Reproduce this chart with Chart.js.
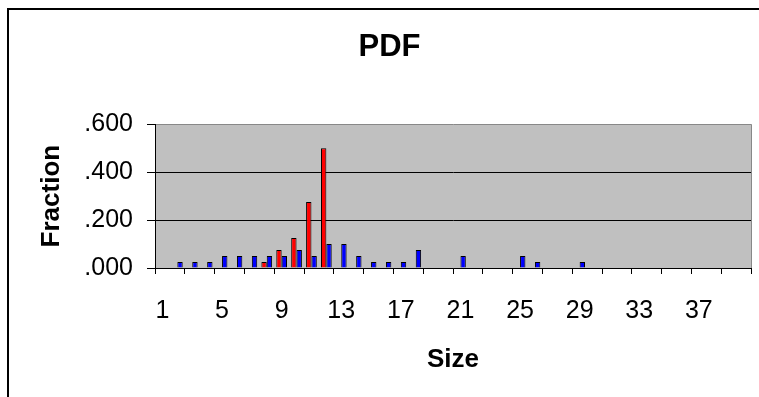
<!DOCTYPE html>
<html>
<head>
<meta charset="utf-8">
<script src="https://cdn.jsdelivr.net/npm/chart.js@4/dist/chart.umd.min.js"></script>
<style>
    html, body { margin: 0; padding: 0; background: #fff; overflow: hidden; }
    #wrap { width: 759px; height: 397px; }
</style>
</head>
<body>
<div id="wrap"><canvas id="chartPdf" width="759" height="397"></canvas></div>
<script>
// sizes 1..40
const sizes = Array.from({ length: 40 }, (_, i) => String(i + 1));

// fraction per size, null where there is no bar
const redFraction = [
    null, null, null, null, null, null, null, 0.025, 0.075, 0.125,
    0.275, 0.5, null, null, null, null, null, null, null, null,
    null, null, null, null, null, null, null, null, null, null,
    null, null, null, null, null, null, null, null, null, null,
];
const blueFraction = [
    null, 0.025, 0.025, 0.025, 0.05, 0.05, 0.05, 0.05, 0.05, 0.075,
    0.05, 0.1, 0.1, 0.05, 0.025, 0.025, 0.025, 0.075, null, null,
    0.05, null, null, null, 0.05, 0.025, null, null, 0.025, null,
    null, null, null, null, null, null, null, null, null, null,
];

const yTicks = [0, 0.2, 0.4, 0.6];

const FONT = "'Liberation Sans', Arial, sans-serif";

// white page, outer frame (top and left only) and grey plot area
const excelFrame = {
    id: 'excelFrame',
    beforeDraw(chart) {
        const { ctx, chartArea } = chart;
        ctx.save();
        ctx.fillStyle = '#fff';
        ctx.fillRect(0, 0, chart.width, chart.height);
        ctx.fillStyle = '#c0c0c0';
        ctx.fillRect(chartArea.left, chartArea.top, chartArea.right - chartArea.left, chartArea.bottom - chartArea.top);
        ctx.restore();
    },
    afterDatasetsDraw(chart) {
        const { ctx, chartArea } = chart;
        ctx.save();
        ctx.strokeStyle = '#888';
        ctx.lineWidth = 1;
        ctx.beginPath();
        ctx.moveTo(chartArea.right + 0.5, chartArea.top);
        ctx.lineTo(chartArea.right + 0.5, chartArea.bottom);
        ctx.stroke();
        ctx.restore();
    },
    afterDraw(chart) {
        const { ctx } = chart;
        ctx.save();
        // keep the strip right of the plot clean, then draw the frame
        ctx.fillStyle = '#fff';
        ctx.fillRect(chart.chartArea.right + 2, 10, chart.width, chart.height);
        ctx.fillStyle = '#000';
        ctx.fillRect(7, 8, 2, chart.height - 8);
        ctx.fillRect(7, 8, chart.width - 7, 2);
        ctx.restore();
    }
};

const chartPdf = new Chart(document.getElementById('chartPdf'), {
    type: 'bar',
    data: {
        labels: sizes,
        datasets: [
            {
                data: redFraction,
                backgroundColor: '#ff0000',
                borderColor: '#000',
                borderWidth: 1,
                categoryPercentage: 0.72,
                barPercentage: 1,
            },
            {
                data: blueFraction,
                backgroundColor: '#0000ff',
                borderColor: '#000',
                borderWidth: 1,
                categoryPercentage: 0.72,
                barPercentage: 1,
            },
        ]
    },
    options: {
        responsive: false,
        animation: false,
        layout: {
            padding: { left: 28, right: 8, top: 0, bottom: 0 }
        },
        plugins: {
            legend: {
                display: false
            },
            tooltip: {
                enabled: false
            },
            title: {
                display: true,
                text: 'PDF',
                color: '#000',
                font: { family: FONT, size: 31, weight: 'bold', lineHeight: 1.2 },
                padding: { top: 29, bottom: 58 }
            },
        },
        scales: {
            x: {
                afterFit(scale) {
                    scale.height = 129;
                    // tick padding would otherwise be added to the sides
                    scale.paddingLeft = 0;
                    scale.paddingRight = 0;
                },
                grid: {
                    offset: true,
                    drawOnChartArea: false,
                    drawTicks: true,
                    tickLength: 6,
                    color: (ctx) => (ctx.index === undefined || ctx.index % 2 === 0) ? '#000' : 'rgba(0,0,0,0)',
                },
                border: { color: '#000', width: 1 },
                ticks: {
                    autoSkip: false,
                    maxRotation: 0,
                    padding: 22,
                    color: '#000',
                    font: { family: FONT, size: 25 },
                    callback: (value, index) => index % 4 === 0 ? sizes[index] : '',
                },
                title: {
                    display: true,
                    text: 'Size',
                    color: '#000',
                    font: { family: FONT, size: 26, weight: 'bold', lineHeight: 1.2 },
                    padding: { top: 0, bottom: 22 }
                }
            },
            y: {
                min: 0,
                max: 0.6,
                afterFit(scale) { scale.width = 127; },
                afterBuildTicks(scale) { scale.ticks = yTicks.map(v => ({ value: v })); },
                grid: {
                    color: (ctx) => ctx.tick && ctx.tick.value >= 0.6 ? '#888' : '#000',
                    tickColor: '#000',
                    tickLength: 8,
                },
                border: { color: '#000', width: 1 },
                ticks: {
                    padding: 14,
                    color: '#000',
                    font: { family: FONT, size: 25 },
                    callback: (value) => value.toFixed(3).replace(/^0/, ''),
                },
                title: {
                    display: true,
                    text: 'Fraction',
                    color: '#000',
                    font: { family: FONT, size: 26, weight: 'bold', lineHeight: 1.2 },
                    padding: { top: 8, bottom: 0 }
                }
            },
        },
    },
    plugins: [excelFrame],
});
</script>
</body>
</html>
